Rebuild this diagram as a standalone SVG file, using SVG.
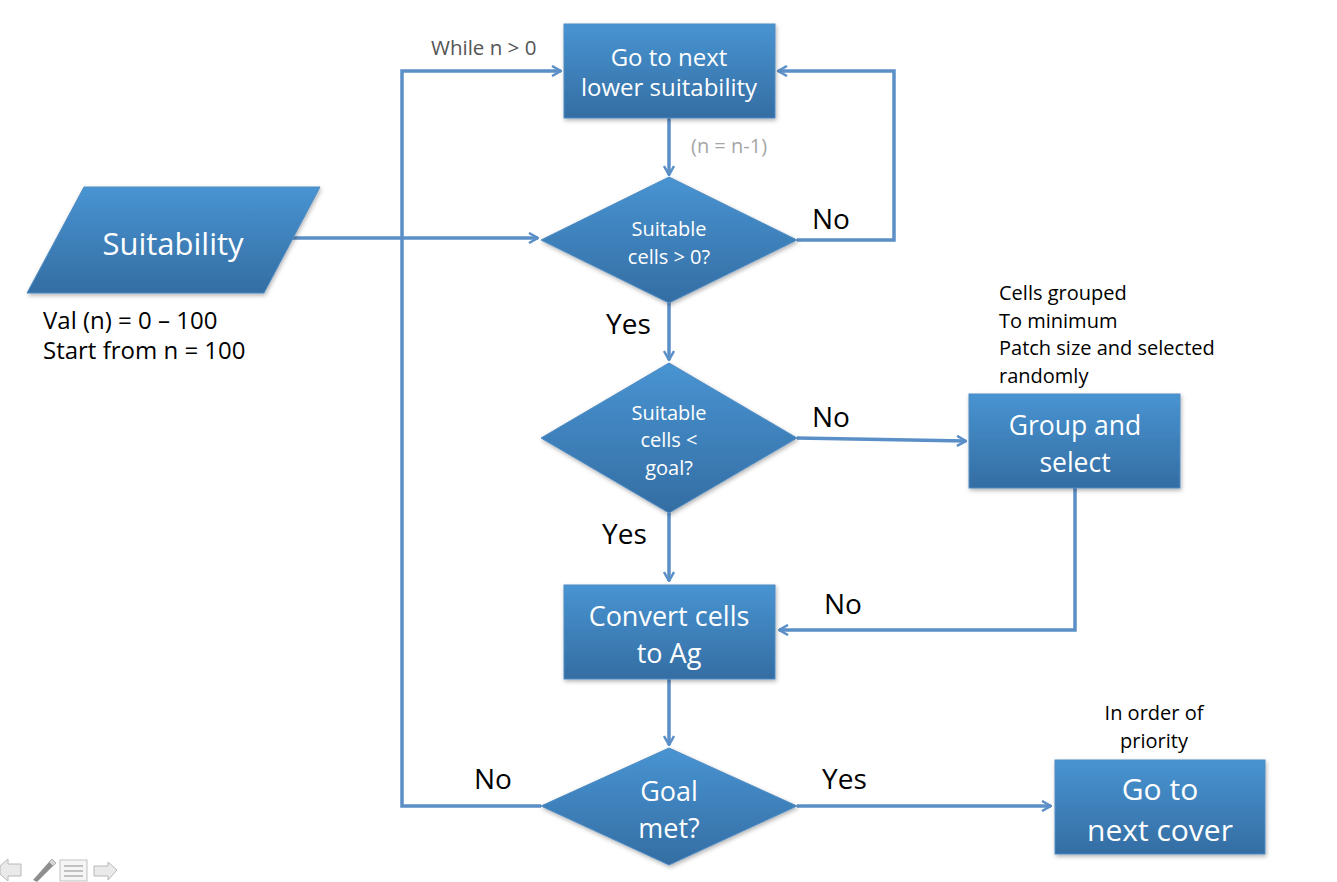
<svg xmlns="http://www.w3.org/2000/svg" width="1337" height="882" viewBox="0 0 1337 882">
<style>
.box{fill:url(#g);stroke:#4f8cc4;stroke-width:1;filter:url(#sh)}
.w{fill:#fff;font-family:"Open Sans",Lato,sans-serif;text-anchor:middle}
.k{fill:#000;font-family:"Open Sans",Lato,sans-serif}
.c{fill:none;stroke:#5b8fc7;stroke-width:3.5}
</style>
<defs>
<linearGradient id="g" x1="0" y1="0" x2="0" y2="1">
<stop offset="0" stop-color="#4894d2"/>
<stop offset="1" stop-color="#346da3"/>
</linearGradient>
<filter id="sh" x="-10%" y="-10%" width="125%" height="130%">
<feDropShadow dx="1" dy="2" stdDeviation="2" flood-color="#000" flood-opacity="0.3"/>
</filter>
<marker id="a" viewBox="0 0 12 12" refX="11" refY="6" markerWidth="12" markerHeight="12" markerUnits="userSpaceOnUse" orient="auto">
<polyline points="2,1 11,6 2,11" fill="none" stroke="#5b8fc7" stroke-width="2.5" stroke-linejoin="miter"/>
</marker>
</defs>
<rect width="1337" height="882" fill="#fff"/>
<g id="connectors">
<path class="c" d="M669,118 V175" marker-end="url(#a)"/>
<path class="c" d="M797,240 H894 V71 H778" marker-end="url(#a)"/>
<path class="c" d="M292,238 H538" marker-end="url(#a)"/>
<path class="c" d="M541,806 H402 V71 H561" marker-end="url(#a)"/>
<path class="c" d="M669,303 V360" marker-end="url(#a)"/>
<path class="c" d="M797,438 L966,441" marker-end="url(#a)"/>
<path class="c" d="M1075,488 V630 H779" marker-end="url(#a)"/>
<path class="c" d="M669,513 V581" marker-end="url(#a)"/>
<path class="c" d="M669,679 V745" marker-end="url(#a)"/>
<path class="c" d="M797,806 H1051" marker-end="url(#a)"/>
</g>
<g id="label-while"><text x="431" y="55" font-family="'Open Sans',Lato,sans-serif" font-size="20.5" fill="#555">While n &gt; 0</text></g>
<g id="label-n"><text x="691" y="153" font-family="'Open Sans',Lato,sans-serif" font-size="20" fill="#a6a6a6">(n = n-1)</text></g>
<g id="node-next-lower">
<rect class="box" x="564" y="24" width="211" height="94"/>
<text class="w" x="669" y="66" font-size="24">Go to next</text>
<text class="w" x="669" y="96" font-size="24">lower suitability</text>
</g>
<g id="node-suitability">
<polygon class="box" points="84,187 320,187 264,293 27,293"/>
<text class="w" x="173" y="255" font-size="31">Suitability</text>
</g>
<g id="label-val">
<text class="k" x="43" y="329" font-size="24">Val (n) = 0 – 100</text>
<text class="k" x="43" y="359" font-size="24">Start from n = 100</text>
</g>
<g id="node-d1">
<polygon class="box" points="669,177 797,240 669,303 541,240"/>
<text class="w" x="669" y="236" font-size="20">Suitable</text>
<text class="w" x="669" y="264" font-size="20">cells &gt; 0?</text>
</g>
<text class="k" x="812" y="229" font-size="28">No</text>
<text class="k" x="606" y="334" font-size="28">Yes</text>
<g id="node-d2">
<polygon class="box" points="669,363 797,438 669,513 541,438"/>
<text class="w" x="669" y="420" font-size="20">Suitable</text>
<text class="w" x="669" y="447" font-size="20">cells &lt;</text>
<text class="w" x="669" y="475" font-size="20">goal?</text>
</g>
<text class="k" x="812" y="427" font-size="28">No</text>
<g id="label-cells-grouped">
<text class="k" x="999" y="300" font-size="20">Cells grouped</text>
<text class="k" x="999" y="328" font-size="20">To minimum</text>
<text class="k" x="999" y="355" font-size="20">Patch size and selected</text>
<text class="k" x="999" y="383" font-size="20">randomly</text>
</g>
<g id="node-group">
<rect class="box" x="969" y="394" width="211" height="94"/>
<text class="w" x="1075" y="435" font-size="26.5">Group and</text>
<text class="w" x="1075" y="472" font-size="26.5">select</text>
</g>
<text class="k" x="602" y="544" font-size="28">Yes</text>
<text class="k" x="824" y="614" font-size="28">No</text>
<g id="node-convert">
<rect class="box" x="564" y="585" width="211" height="94"/>
<text class="w" x="669" y="626" font-size="27">Convert cells</text>
<text class="w" x="669" y="663" font-size="27">to Ag</text>
</g>
<g id="node-d3">
<polygon class="box" points="669,748 797,806 669,865 541,806"/>
<text class="w" x="669" y="801" font-size="27">Goal</text>
<text class="w" x="669" y="838" font-size="27">met?</text>
</g>
<text class="k" x="474" y="789" font-size="28">No</text>
<text class="k" x="822" y="789" font-size="28">Yes</text>
<g id="label-priority">
<text class="k" x="1154" y="720" font-size="20" text-anchor="middle">In order of</text>
<text class="k" x="1154" y="748" font-size="20" text-anchor="middle">priority</text>
</g>
<g id="node-next-cover">
<rect class="box" x="1055" y="760" width="210" height="94"/>
<text class="w" x="1160" y="800" font-size="30">Go to</text>
<text class="w" x="1160" y="841" font-size="30">next cover</text>
</g>
<g id="toolbar" opacity="0.6">
<polygon points="0,866 8,859 8,864 21,864 21,876 8,876 8,881 0,874" fill="#ddd" stroke="#888" stroke-width="1"/>
<path d="M33,880 L49,862 L53,866 L37,882 Z" fill="#444"/>
<path d="M49,862 L52,859 L56,863 L53,866 Z" fill="#bbb" stroke="#666" stroke-width="0.8"/>
<rect x="60" y="860" width="27" height="21" fill="#f0f0f0" stroke="#999"/>
<line x1="64" y1="866" x2="83" y2="866" stroke="#999" stroke-width="2"/>
<line x1="64" y1="871" x2="83" y2="871" stroke="#999" stroke-width="2"/>
<line x1="64" y1="876" x2="83" y2="876" stroke="#999" stroke-width="2"/>
<polygon points="117,870 108,862 108,866 94,866 94,876 108,876 108,880" fill="#ddd" stroke="#888" stroke-width="1"/>
</g>
</svg>
